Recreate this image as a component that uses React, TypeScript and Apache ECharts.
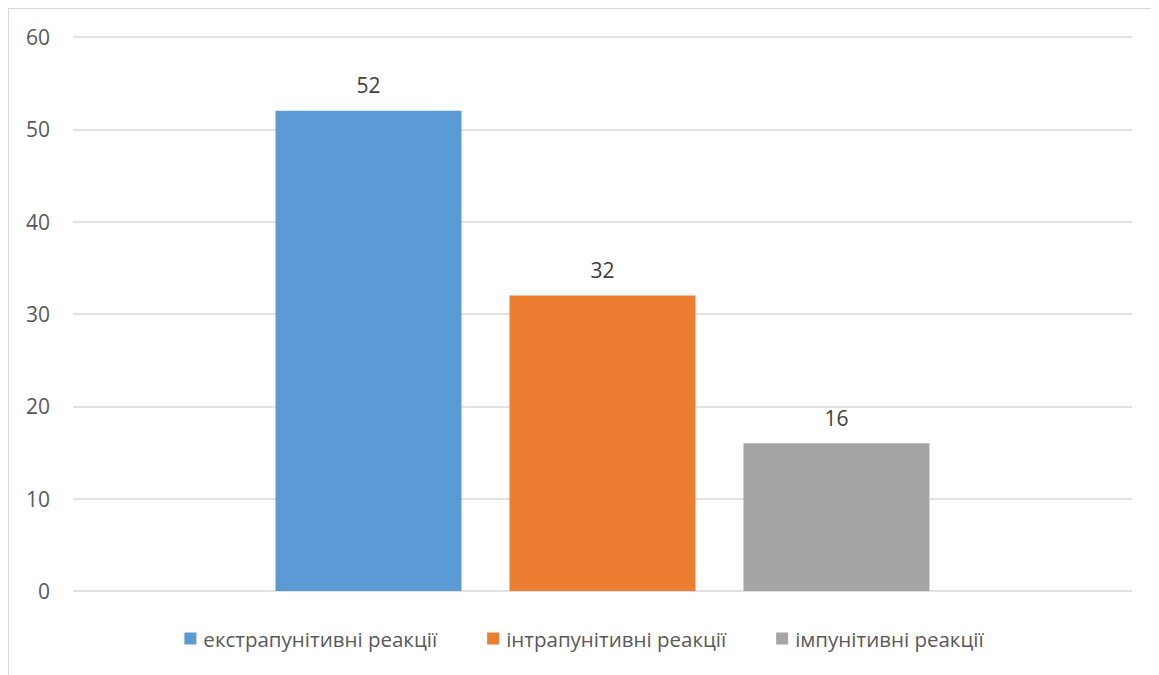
import React, { useEffect, useRef } from "react";
import * as echarts from "echarts";

const categories = [""];
const seriesNames = ["екстрапунітивні реакції", "інтрапунітивні реакції", "імпунітивні реакції"];
const seriesValues = [52, 32, 16];
const seriesColors = ["#5b9bd5", "#ed7d31", "#a5a5a5"];

const FONT = "'Open Sans', 'Noto Sans', sans-serif";

export default function App() {
  const ref = useRef<HTMLDivElement>(null);

  useEffect(() => {
    if (!ref.current) return;
    const chart = echarts.init(ref.current, undefined, { renderer: "svg" });
    chart.setOption({
      animation: false,
      textStyle: { fontFamily: FONT },
      legend: {
        bottom: 21,
        left: "center",
        itemWidth: 12,
        itemHeight: 12,
        itemGap: 50,
        icon: "rect",
        textStyle: { fontSize: 20.5, color: "#595959", fontFamily: FONT, padding: [0, 0, 0, 2] },
        data: seriesNames,
      },
      grid: { left: 64, top: 28, width: 1059, height: 554 },
      xAxis: {
        type: "category",
        data: categories,
        axisLine: { show: false },
        axisTick: { show: false },
        axisLabel: { show: false },
      },
      yAxis: {
        type: "value",
        min: 0,
        max: 60,
        interval: 10,
        axisLine: { show: false },
        axisTick: { show: false },
        axisLabel: { fontSize: 21, color: "#595959", margin: 23, fontFamily: FONT },
        splitLine: { lineStyle: { color: "#d9d9d9", width: 1.5 } },
      },
      series: seriesNames.map((name, i) => ({
        type: "bar",
        name,
        data: [seriesValues[i]],
        barWidth: 186,
        barGap: "25.8%",
        itemStyle: { color: seriesColors[i] },
        label: {
          show: true,
          position: "top",
          distance: 15,
          fontSize: 21,
          color: "#404040",
          fontFamily: FONT,
        },
      })),
    });
    return () => chart.dispose();
  }, []);

  return (
    <div
      style={{
        width: 1151,
        height: 667,
        borderLeft: "1.5px solid #d9d9d9",
        borderTop: "1.5px solid #d9d9d9",
        boxSizing: "border-box",
        overflow: "hidden",
        background: "#fff",
      }}
    >
      <div ref={ref} style={{ width: 1150, height: 666 }} />
    </div>
  );
}
